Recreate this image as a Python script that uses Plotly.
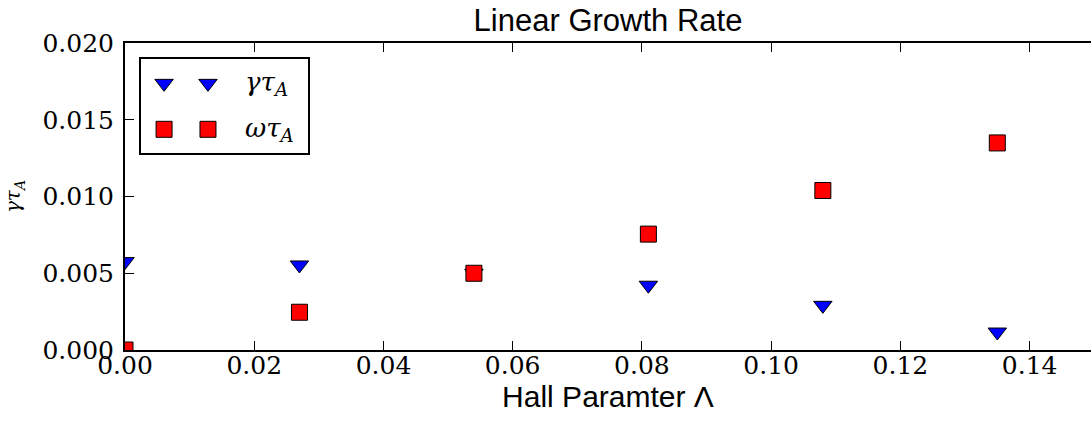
import plotly.graph_objects as go

# Hall parameter values and the two measured rates
hall_param = [0.0, 0.027, 0.054, 0.081, 0.108, 0.135]
gamma_tau = [0.00576, 0.00554, 0.0050, 0.00422, 0.00291, 0.00117]
omega_tau = [0.0, 0.00246, 0.0050, 0.00755, 0.01039, 0.01349]

x_ticks = [0.0, 0.02, 0.04, 0.06, 0.08, 0.10, 0.12, 0.14]
y_ticks = [0.0, 0.005, 0.010, 0.015, 0.020]

series_names = ["<i>γτ</i><sub><i>A</i></sub>", "<i>ωτ</i><sub><i>A</i></sub>"]

BLUE = "#0000ff"
RED = "#ff0000"
SERIF = "DejaVu Serif"
SANS = "Liberation Sans, Arial, sans-serif"

fig = go.Figure()

fig.add_trace(go.Scatter(
    x=hall_param, y=gamma_tau, mode="markers", name="gamma",
    marker=dict(symbol="triangle-down", size=16, color=BLUE,
                line=dict(color="black", width=1)),
    showlegend=False,
))
fig.add_trace(go.Scatter(
    x=hall_param, y=omega_tau, mode="markers", name="omega",
    marker=dict(symbol="square", size=16, color=RED,
                line=dict(color="black", width=1)),
    showlegend=False,
))

# Legend box drawn as a small inset axis with two sample markers per row
key_x = [0.138, 0.401]
key_rows = [0.741, 0.252]
key_styles = [("triangle-down", BLUE), ("square", RED)]
for (sym, col), ky, label in zip(key_styles, key_rows, series_names):
    fig.add_trace(go.Scatter(
        x=key_x, y=[ky] * len(key_x), mode="markers",
        marker=dict(symbol=sym, size=16, color=col,
                    line=dict(color="black", width=1)),
        xaxis="x3", yaxis="y3", showlegend=False, hoverinfo="skip",
    ))
    fig.add_annotation(
        x=0.611, y=ky, xref="x3", yref="y3", text=label, showarrow=False,
        xanchor="left", yanchor="middle",
        font=dict(family=SERIF, size=26, color="black"),
    )

axis_common = dict(
    showline=True, linewidth=2, linecolor="black",
    ticks="inside", ticklen=9, tickwidth=1, tickcolor="black",
    showgrid=False, zeroline=False,
    tickfont=dict(family=SERIF, size=25, color="black"),
)

fig.update_layout(
    width=1091, height=424,
    margin=dict(l=125, r=0, t=43, b=74),
    paper_bgcolor="white", plot_bgcolor="white",
    font=dict(family=SERIF, color="black"),
    title=dict(text="Linear Growth Rate", x=0.5, xref="paper",
               y=1 - 20 / 424, yanchor="middle", xanchor="center",
               font=dict(family=SANS, size=31, color="black")),
    xaxis=dict(
        axis_common, range=[0, 0.1495], tickvals=x_ticks,
        tickformat=".2f", mirror="ticks", ticklabelstandoff=-8,
        title=dict(text="Hall Paramter Λ", standoff=0,
                   font=dict(family=SANS, size=30, color="black")),
    ),
    yaxis=dict(
        axis_common, range=[0, 0.020], tickvals=y_ticks,
        tickformat=".3f", ticklabelstandoff=4,
        title=dict(text="<i>γτ</i><sub><i>A</i></sub>", standoff=16,
                   font=dict(family=SERIF, size=20, color="black")),
    ),
    yaxis2=dict(
        overlaying="y", side="right", range=[0, 0.020], tickvals=y_ticks,
        ticks="inside", ticklen=9, tickwidth=1, tickcolor="black",
        showticklabels=False, showline=False, showgrid=False, zeroline=False,
    ),
    xaxis3=dict(domain=[0.0166, 0.1894], anchor="y3", range=[0, 1],
                showline=True, mirror=True, linewidth=2, linecolor="black",
                showticklabels=False, ticks="", showgrid=False, zeroline=False),
    yaxis3=dict(domain=[0.6417, 0.9479], anchor="x3", range=[0, 1],
                showline=True, mirror=True, linewidth=2, linecolor="black",
                showticklabels=False, ticks="", showgrid=False, zeroline=False),
)

fig.write_html("out.html")
